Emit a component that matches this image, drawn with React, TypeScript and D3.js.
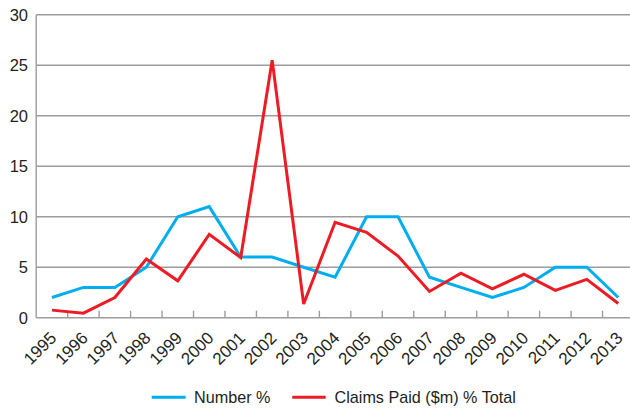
import React from "react";
import * as d3 from "d3";

const years = ["1995","1996","1997","1998","1999","2000","2001","2002","2003","2004","2005","2006","2007","2008","2009","2010","2011","2012","2013"];
const numberPct = [2, 3, 3, 5, 10, 11, 6, 6, 5, 4, 10, 10, 4, 3, 2, 3, 5, 5, 2];
const claimsPct = [0.75, 0.45, 2, 5.8, 3.65, 8.25, 5.95, 25.5, 1.35, 9.45, 8.45, 6.1, 2.6, 4.4, 2.85, 4.3, 2.7, 3.8, 1.4];
const yTicks = [0, 5, 10, 15, 20, 25, 30];

const W = 630, H = 412;
const left = 36.2, right = 634, top = 14.7, bottom = 317.7;
const FONT = "'Liberation Sans', Arial, Helvetica, sans-serif";
const BLUE = "#00aeef";
const RED = "#ed1c24";
const GRID = "#9c9c9c";

export default function App() {
  const x = d3.scaleBand<string>().domain(years).range([left, right]).padding(0);
  const y = d3.scaleLinear().domain([0, 30]).range([bottom, top]);
  const cx = (i: number) => (x(years[i]) as number) + x.bandwidth() / 2;
  const line = d3.line<number>().x((_, i) => cx(i)).y((d) => y(d));

  return (
    <svg width={W} height={H} style={{ position: "absolute", left: 0, top: 0, background: "#fff" }} fontFamily={FONT}>
      {yTicks.map((t) => (
        <g key={t}>
          {t > 0 && <line x1={left} x2={W} y1={y(t)} y2={y(t)} stroke={GRID} strokeWidth={1.4} />}
          <text x={28} y={y(t)} dy="0.36em" textAnchor="end" fontSize={16.5} fill="#231f20">{t}</text>
        </g>
      ))}
      <line x1={left} x2={left} y1={top} y2={bottom} stroke={GRID} strokeWidth={1.4} />
      <line x1={left} x2={W} y1={bottom} y2={bottom} stroke={GRID} strokeWidth={1.6} />
      {years.map((yr, i) => (
        i > 0 ? <line key={"t" + yr} x1={x(yr) as number} x2={x(yr) as number} y1={bottom} y2={bottom - 7} stroke={GRID} strokeWidth={1.4} /> : null
      ))}
      {years.map((yr, i) => {
        const px = cx(i) + 5.5;
        const py = 339;
        return (
          <text key={yr} x={px} y={py} textAnchor="end" fontSize={17} fill="#231f20" transform={`rotate(-45 ${px} ${py})`}>{yr}</text>
        );
      })}
      <path d={line(numberPct) as string} fill="none" stroke={BLUE} strokeWidth={3} strokeLinejoin="miter" />
      <path d={line(claimsPct) as string} fill="none" stroke={RED} strokeWidth={3} strokeLinejoin="miter" />
      <g>
        <line x1={151.7} x2={185.7} y1={397.3} y2={397.3} stroke={BLUE} strokeWidth={3} />
        <text x={194} y={403} fontSize={16.2} fill="#231f20">Number %</text>
        <line x1={292.3} x2={325.7} y1={397.3} y2={397.3} stroke={RED} strokeWidth={3} />
        <text x={334.5} y={403} fontSize={16.2} fill="#231f20">Claims Paid ($m) % Total</text>
      </g>
    </svg>
  );
}
